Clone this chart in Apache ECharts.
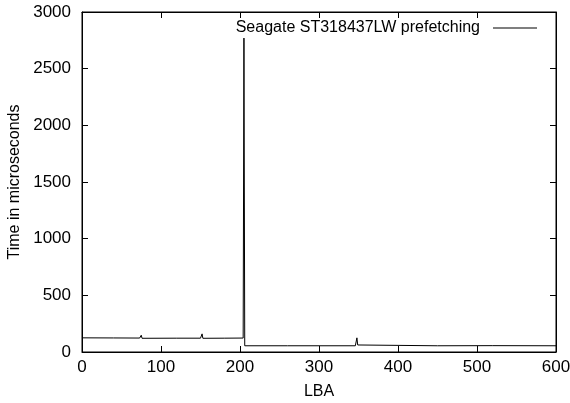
<!DOCTYPE html>
<html><head><meta charset="utf-8">
<script src="https://cdn.jsdelivr.net/npm/echarts@6/dist/echarts.min.js"></script>
<style>html,body{margin:0;padding:0;background:#fff}#c{width:570px;height:403px}</style>
</head><body><div id="c"></div>
<script>
const seriesName = 'Seagate ST318437LW prefetching';
const lba  = [0, 40, 73, 74, 75, 76, 120, 150, 151, 152, 153, 180, 204, 205, 206, 260, 346, 347, 348, 349, 350, 450, 520, 600];
const time = [125, 124, 123, 122, 148, 121, 122, 122, 121, 160, 121, 122, 123, 2770, 55, 55, 55, 58, 125, 62, 55, 55, 56, 55];
const xTicks = {min: 0, max: 600, interval: 100};
const yTicks = {min: 0, max: 3000, interval: 500};

const font = 'Liberation Sans, Arial, sans-serif';
const data = lba.map((x, i) => [x, time[i]]);
function common() {
  return {
    axisLine: {show: true, onZero: false, lineStyle: {color: '#000', width: 1}},
    axisTick: {show: true, inside: true, length: 6, lineStyle: {color: '#000', width: 1}},
    splitLine: {show: false}
  };
}
const chart = echarts.init(document.getElementById('c'), null, {renderer: 'canvas'});
chart.setOption({
  animation: false,
  backgroundColor: '#fff',
  grid: {left: 82, right: 14, top: 12, bottom: 51, containLabel: false, outerBoundsMode: 'none',
    show: true, borderColor: '#000', borderWidth: 1, backgroundColor: 'transparent'},
  legend: {
    show: true, right: 28, top: 15, align: 'right', icon: 'rect',
    itemWidth: 44, itemHeight: 1,
    textStyle: {fontFamily: font, fontSize: 16, color: '#000', padding: [0, 8, 0, 0]},
    data: [seriesName]
  },
  xAxis: [
    Object.assign(common(), {type: 'value', position: 'bottom', min: xTicks.min, max: xTicks.max, interval: xTicks.interval,
      name: 'LBA', nameLocation: 'middle', nameGap: 32,
      nameTextStyle: {fontFamily: font, fontSize: 16, color: '#000'},
      axisLabel: {fontFamily: font, fontSize: 17, color: '#000', margin: 7, formatter: v => String(v)}}),
    Object.assign(common(), {type: 'value', position: 'top', min: xTicks.min, max: xTicks.max, interval: xTicks.interval,
      axisLabel: {show: false}})
  ],
  yAxis: [
    Object.assign(common(), {type: 'value', position: 'left', min: yTicks.min, max: yTicks.max, interval: yTicks.interval,
      name: 'Time in microseconds', nameLocation: 'middle', nameGap: 58, nameRotate: 90,
      nameTextStyle: {fontFamily: font, fontSize: 16, color: '#000'},
      axisLabel: {fontFamily: font, fontSize: 17, color: '#000', margin: 11, formatter: v => String(v)}}),
    Object.assign(common(), {type: 'value', position: 'right', min: yTicks.min, max: yTicks.max, interval: yTicks.interval,
      axisLabel: {show: false}})
  ],
  series: [{
    name: seriesName, type: 'line', data: data, xAxisIndex: 0, yAxisIndex: 0,
    showSymbol: false, symbol: 'none',
    lineStyle: {color: '#000', width: 1}, itemStyle: {color: '#000'}
  }]
});
</script></body></html>
